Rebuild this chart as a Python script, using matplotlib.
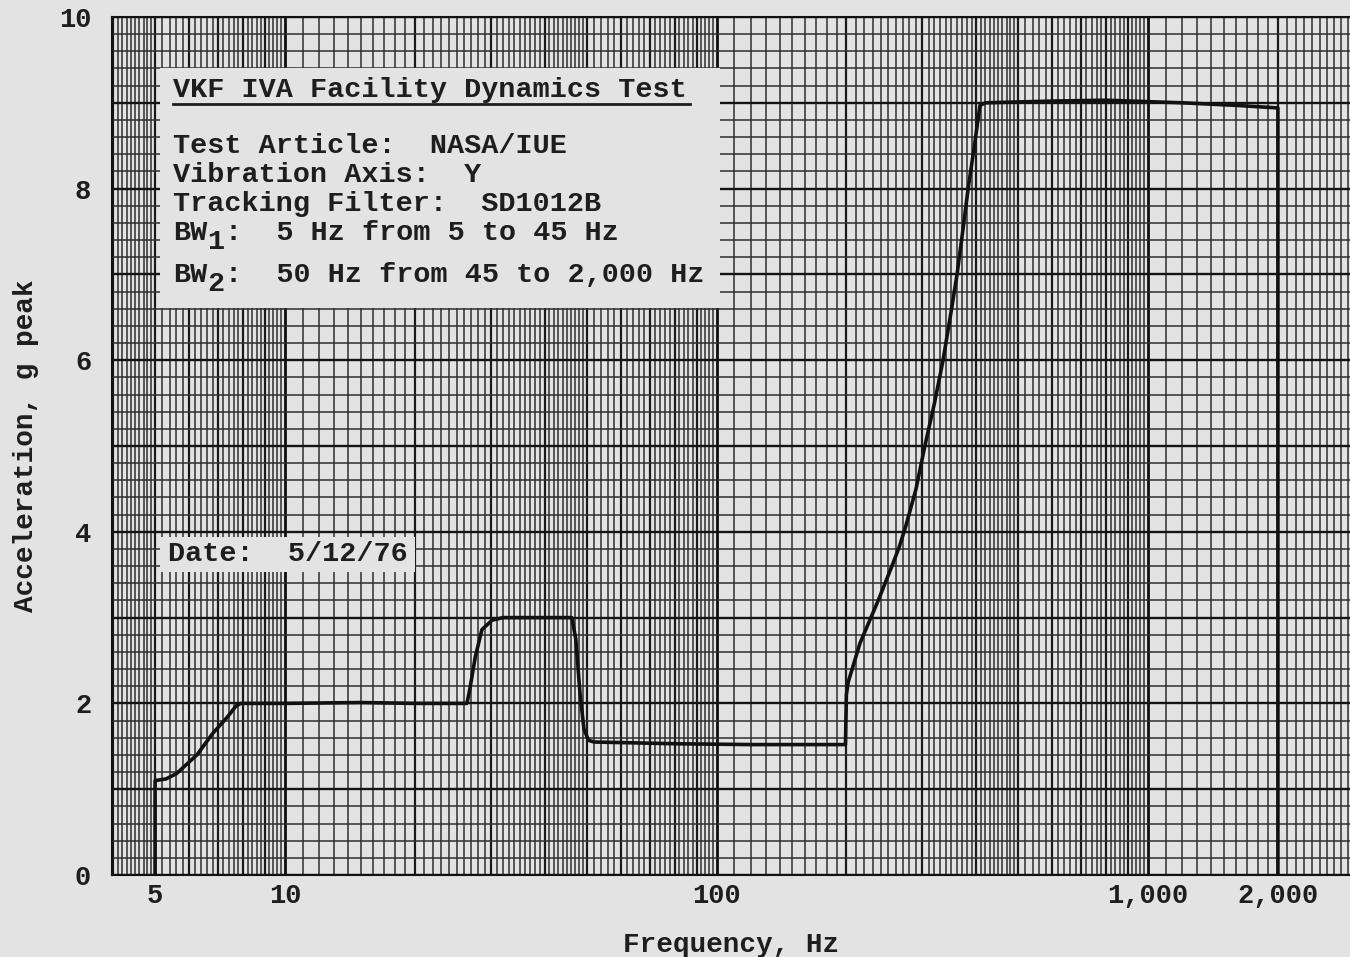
import numpy as np
import matplotlib.pyplot as plt
from matplotlib.patches import Rectangle

# frequency sweep, Hz / acceleration, g peak
freq = [5, 5, 5.3, 5.6, 6.25, 6.8, 7.35, 7.7, 7.9, 10, 15, 20, 26.4, 26.8, 27.6,
        28.6, 30.2, 32, 40, 46.2, 47.2, 48.3, 49.3, 50.5, 52, 80, 120, 160, 199, 200,
        202, 215, 237, 255, 265, 274, 290, 304, 320, 335, 348, 361, 372, 383, 396,
        408, 420, 600, 800, 1200, 1600, 2000, 2000]
accel = [0, 1.1, 1.12, 1.18, 1.4, 1.65, 1.84, 1.97, 2.0, 2.0, 2.01, 2.0, 2.0, 2.16,
         2.54, 2.86, 2.97, 3.0, 3.0, 3.0, 2.75, 2.1, 1.7, 1.57, 1.55, 1.53, 1.52,
         1.52, 1.52, 2.1, 2.25, 2.7, 3.2, 3.6, 3.82, 4.05, 4.5, 5.0, 5.5, 6.0, 6.5,
         7.0, 7.5, 8.0, 8.5, 8.97, 9.0, 9.02, 9.03, 9.0, 8.97, 8.94, 0]

x_ticks = [5, 10, 100, 1000, 2000]
x_labels = ['5', '10', '100', '1,000', '2,000']
y_ticks = [0, 2, 4, 6, 8, 10]

title_line = 'VKF IVA Facility Dynamics Test'
info_lines = ['Test Article:  NASA/IUE',
              'Vibration Axis:  Y',
              'Tracking Filter:  SD1012B']
bw1_text = ':  5 Hz from 5 to 45 Hz'
bw2_text = ':  50 Hz from 45 to 2,000 Hz'
date_text = 'Date:  5/12/76'

paper = '#e3e3e3'
ink = '#1e1e1e'
font = 'Liberation Mono'

W, H = 1350, 957
fig = plt.figure(figsize=(W / 100, H / 100), dpi=100, facecolor=paper)


def fx(px):
    return px / W


def fy(py):
    return 1 - py / H


ax = fig.add_axes([fx(112), fy(875), fx(1350 - 112), (875 - 17) / H])
ax.set_facecolor(paper)
ax.set_xscale('log')
x_lo = 10 ** (1 + (112 - 285) / 431.5)
x_hi = 10 ** (1 + (1350 - 285) / 431.5)
ax.set_xlim(x_lo, x_hi)
ax.set_ylim(0, 10)

# log paper rulings
for dec in [1, 10, 100, 1000]:
    subs = np.concatenate([np.arange(1, 2, 0.1), np.arange(2, 5, 0.1), np.arange(5, 10, 0.2)])
    for m in subs:
        v = dec * m
        if v < x_lo or v > x_hi:
            continue
        if abs(m - 1) < 1e-9:
            lw, c = 2.0, '#0e0e0e'
        elif abs(m - round(m)) < 1e-9:
            lw, c = 1.6, '#1a1a1a'
        else:
            lw, c = 1.1, '#2e2e2e'
        ax.axvline(v, color=c, lw=lw, zorder=1)
for yv in np.arange(0, 10.01, 0.2):
    if abs(yv - round(yv)) < 1e-9:
        ax.axhline(yv, color='#141414', lw=1.7, zorder=1)
    else:
        ax.axhline(yv, color='#2e2e2e', lw=1.1, zorder=1)

ax.plot(freq, accel, color='#111111', lw=2.6, zorder=5, solid_joinstyle='round')

ax.set_xticks(x_ticks)
ax.set_xticklabels(x_labels)
ax.set_xticks([], minor=True)
ax.set_yticks(y_ticks)
ax.tick_params(length=0, labelsize=19.5, labelcolor=ink)
ax.tick_params(axis='x', pad=6)
ax.tick_params(axis='y', pad=15)
for lab in ax.get_xticklabels() + ax.get_yticklabels():
    lab.set_fontfamily(font)
    lab.set_fontweight('bold')
for s in ax.spines.values():
    s.set_color('#111111')
    s.set_linewidth(1.5)
ax.spines['right'].set_visible(False)

ax.set_xlabel('Frequency, Hz', fontfamily=font, fontweight='bold', fontsize=20, color=ink, labelpad=16)
ax.set_ylabel('Acceleration, g peak', fontfamily=font, fontweight='bold', fontsize=20, color=ink, labelpad=14)

# info boxes
ax.add_patch(Rectangle((fx(160), fy(308)), fx(720 - 160), (308 - 68) / H,
                       transform=fig.transFigure, facecolor=paper, edgecolor='none', zorder=3))
ax.add_patch(Rectangle((fx(160), fy(572)), fx(415 - 160), (572 - 537) / H,
                       transform=fig.transFigure, facecolor=paper, edgecolor='none', zorder=3))

cw = 17.2
tkw = dict(fontfamily=font, fontweight='bold', fontsize=20.5, color=ink, zorder=4,
           transform=fig.transFigure, va='center', ha='left')
ax.text(fx(173), fy(90), title_line, **tkw)
ax.add_line(plt.Line2D([fx(173), fx(690)], [fy(104), fy(104)], transform=fig.transFigure,
                       color=ink, lw=2.0, zorder=4))
for i, line in enumerate(info_lines):
    ax.text(fx(173), fy(146 + 29 * i), line, **tkw)
ax.text(fx(173), fy(233), 'BW', **tkw)
ax.text(fx(173 + 2 * cw), fy(242), '1', **tkw)
ax.text(fx(173 + 3 * cw), fy(233), bw1_text, **tkw)
ax.text(fx(173), fy(275), 'BW', **tkw)
ax.text(fx(173 + 2 * cw), fy(284), '2', **tkw)
ax.text(fx(173 + 3 * cw), fy(275), bw2_text, **tkw)
ax.text(fx(168), fy(554), date_text, **tkw)

fig.savefig('out.png', dpi=100, facecolor=paper)
